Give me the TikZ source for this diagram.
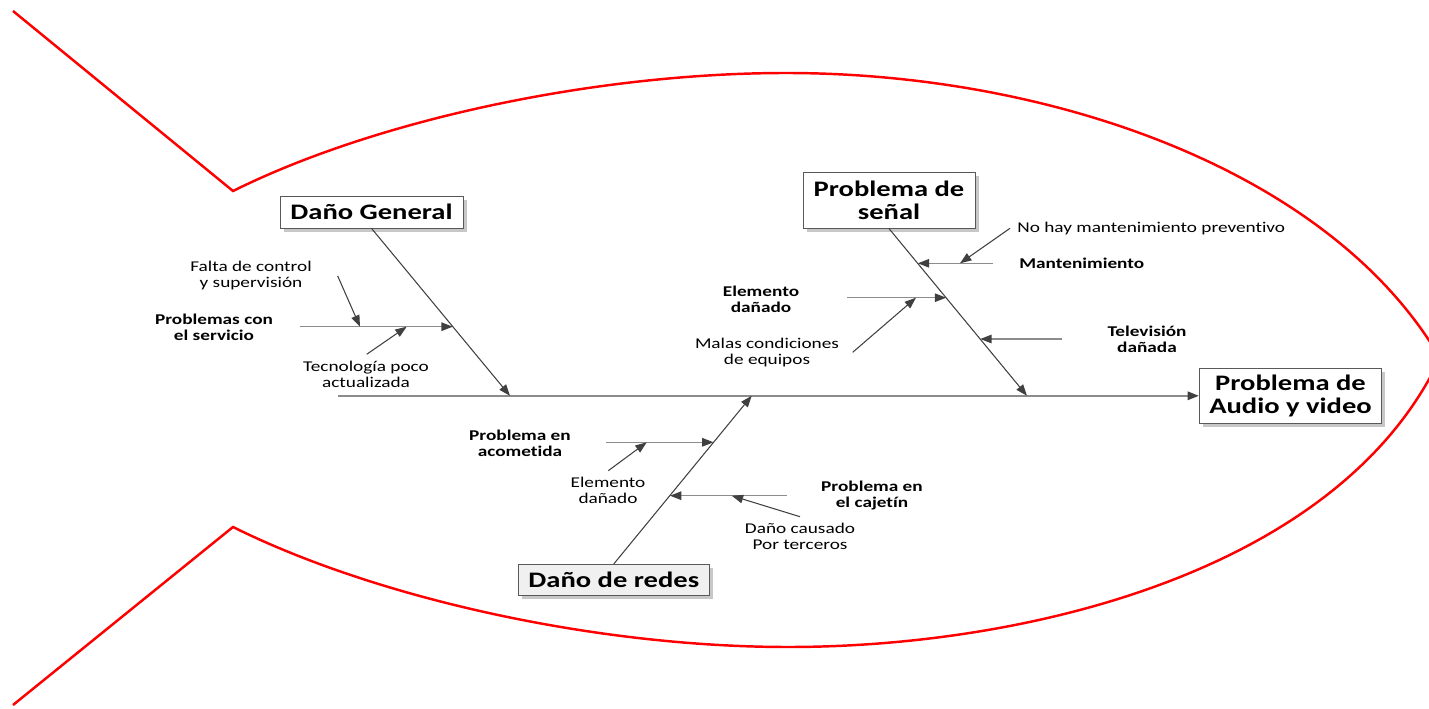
\documentclass[tikz,border=0pt]{standalone}
\usepackage{fontspec}
\setmainfont{Carlito}[FakeStretch=1.29, Ligatures=CommonOff]
\usetikzlibrary{arrows.meta,shadows}

\begin{document}
\begin{tikzpicture}[
        x=0.02cm, y=-0.02cm,
        box/.style={draw=black!65, fill=white, drop shadow={shadow xshift=2pt, shadow yshift=-2pt, fill=black!22, opacity=1}, align=center, inner sep=0pt, font=\fontsize{12.6}{12.9}\selectfont\bfseries},
        lbl/.style={align=center, inner sep=0pt, font=\fontsize{8.5}{9.1}\selectfont},
        cause/.style={align=center, inner sep=0pt, font=\fontsize{8.5}{9.1}\selectfont\bfseries},
        arrow/.style={->, >={Triangle[length=6.5pt, width=4.8pt]}, draw=black!75, line width=0.6pt},
        rib/.style={->, >={Triangle[length=6.5pt, width=4.8pt, color=black!75]}, draw=black!45, line width=0.9pt},
        fish/.style={draw=red, line width=1.4pt}
    ]
        \useasboundingbox (0,0) rectangle (1429,709);

        % contorno del pez
        \draw[fish] (13,11) -- (233,191) .. controls (380,118) and (600,73) .. (786,73)
            .. controls (1050,73) and (1330,170) .. (1440,358)
            .. controls (1340,570) and (1030,647) .. (788,647)
            .. controls (600,647) and (380,600) .. (233,527) -- (13,705);

        % cajas
        \node[box, minimum width=3.66cm, minimum height=0.64cm] (general) at (371.5,212) {Daño General};
        \node[box, minimum width=3.44cm, minimum height=1.11cm] (senal) at (889,200.5) {Problema de\\señal};
        \node[box, minimum width=3.65cm, minimum height=1.10cm] (efecto) at (1290.5,395.8) {Problema de\\Audio y video};
        \node[box, fill=black!6, minimum width=3.82cm, minimum height=0.63cm] (redes) at (613.8,580) {Daño de redes};

        % espina principal
        \coordinate (cola) at (338,395.8);
        \coordinate (b1) at (510,395.8);
        \coordinate (b2) at (1027,395.8);
        \coordinate (b3) at (751.7,395.8);
        \draw[rib, line width=1.1pt] (cola) -- (efecto);
        \draw[arrow] (general.south) -- (b1);
        \draw[arrow] (senal.south) -- (b2);
        \draw[arrow] (redes.north) -- (b3);

        % Daño General
        \coordinate (servicio0) at (300,326.7);
        \coordinate (servicio) at (452.8,326.7);
        \draw[rib] (servicio0) -- (servicio);
        \coordinate (falta0) at (337.7,276);
        \coordinate (falta) at (360,326.7);
        \draw[arrow] (falta0) -- (falta);
        \coordinate (tecno0) at (366.7,354.3);
        \coordinate (tecno) at (406.7,326.7);
        \draw[arrow] (tecno0) -- (tecno);
        \node[cause] (lservicio) at (214,327) {Problemas con\\el servicio};
        \node[lbl] (lfalta) at (251,276) {Falta de control\\y supervisión};
        \node[lbl] (ltecno) at (366,374.5) {Tecnología poco\\actualizada};

        % Problema de señal
        \coordinate (mant0) at (993,263.3);
        \coordinate (mant) at (917.8,263.3);
        \draw[rib] (mant0) -- (mant);
        \coordinate (nohay0) at (1010,228.3);
        \coordinate (nohay) at (960,263.3);
        \draw[arrow] (nohay0) -- (nohay);
        \coordinate (elem0) at (847,297.7);
        \coordinate (elem) at (946.2,297.7);
        \draw[rib] (elem0) -- (elem);
        \coordinate (malas0) at (852.7,352.3);
        \coordinate (malas) at (916,297.7);
        \draw[arrow] (malas0) -- (malas);
        \coordinate (tv0) at (1062,339);
        \coordinate (tv) at (980.2,339);
        \draw[rib] (tv0) -- (tv);
        \node[lbl, anchor=west] (lnohay) at (1017,228.3) {No hay mantenimiento preventivo};
        \node[cause, anchor=west] (lmant) at (1019,263.3) {Mantenimiento};
        \node[cause] (lelem) at (761,299) {Elemento\\dañado};
        \node[lbl] (lmalas) at (767,353) {Malas condiciones\\de equipos};
        \node[cause] (ltv) at (1147,339) {Televisión\\dañada};

        % Daño de redes
        \coordinate (acom0) at (606,442.3);
        \coordinate (acom) at (713.6,442.3);
        \draw[rib] (acom0) -- (acom);
        \coordinate (dan0) at (608.3,470.7);
        \coordinate (dan) at (646.7,442.3);
        \draw[arrow] (dan0) -- (dan);
        \coordinate (caj0) at (787,495.7);
        \coordinate (caj) at (669.9,495.7);
        \draw[rib] (caj0) -- (caj);
        \coordinate (terc0) at (800,516.7);
        \coordinate (terc) at (731.7,495.7);
        \draw[arrow] (terc0) -- (terc);
        \node[cause] (lacom) at (520,443) {Problema en\\acometida};
        \node[lbl] (ldan) at (608,490) {Elemento\\dañado};
        \node[cause] (lcaj) at (872,496) {Problema en\\el cajetín};
        \node[lbl] (lterc) at (800,536) {Daño causado\\Por terceros};
    \end{tikzpicture}
\end{document}
